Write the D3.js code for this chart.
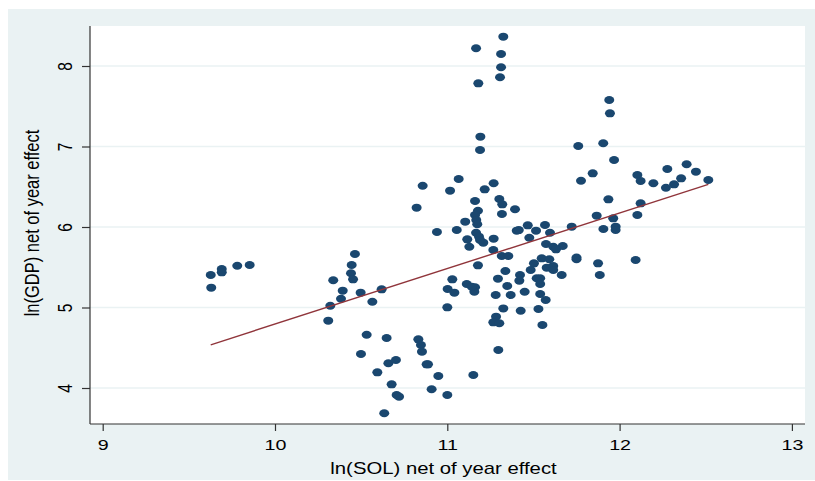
<!DOCTYPE html>
<html>
<head>
<meta charset="utf-8">
<script src="https://cdn.jsdelivr.net/npm/d3@7"></script>
<style>
  html, body { margin: 0; padding: 0; background: #ffffff; }
  svg { display: block; }
  text { font-family: "Liberation Sans", Arial, Helvetica, sans-serif; fill: #000; }
</style>
</head>
<body>
<svg id="chart" width="815" height="481"></svg>
<script>
// ---- data ----
const solX = [
  9.627, 9.630, 9.691, 9.691, 9.781, 9.853,
  10.464, 10.445, 10.441, 10.453, 10.338, 10.393, 10.383, 10.497, 10.619, 10.565,
  10.321, 10.309, 10.532, 10.648, 10.499, 10.658, 10.702, 10.594, 10.677, 10.706,
  10.720, 10.634,
  10.832, 10.847, 10.853, 10.880, 10.888, 10.948, 10.909, 11.000, 11.151, 11.296,
  10.857, 11.066, 11.016, 11.269, 11.217, 10.822, 11.161, 11.302, 11.319, 11.393,
  11.178, 11.161, 11.317, 11.168, 11.174, 11.104, 10.940, 11.055, 11.167, 11.184,
  11.116, 11.128, 11.209, 11.269, 11.403, 11.415, 11.467, 11.515, 11.476, 11.267,
  11.316, 11.354, 11.178, 11.337, 11.503, 11.484, 11.029, 11.002, 11.041, 11.113,
  11.161, 11.157, 11.142, 11.294, 11.422, 11.418, 11.348, 11.281, 11.449, 11.519,
  11.000, 11.368, 11.539, 11.539, 11.325, 11.426, 11.283, 11.267, 11.302, 11.529,
  11.552, 11.539, 11.571, 11.190,
  11.567, 11.596, 11.722, 11.867, 11.963, 12.103, 11.906, 11.977, 11.977, 11.573,
  11.615, 11.670, 11.631, 11.548, 11.592, 11.615, 11.577, 11.615, 11.664, 11.750,
  11.750, 11.875, 12.093, 11.885,
  11.325, 11.167, 11.312, 11.312, 11.306, 11.180, 11.192, 11.190,
  11.940, 11.944, 11.760, 11.905, 11.968, 11.776, 11.844, 12.103, 12.122, 12.196,
  12.277, 12.269, 12.316, 12.357, 12.389, 12.443, 12.515, 11.935, 12.122
];
const gdpY = [
  5.404, 5.246, 5.478, 5.437, 5.519, 5.528,
  5.665, 5.528, 5.425, 5.350, 5.338, 5.209, 5.109, 5.184, 5.226, 5.072,
  5.022, 4.836, 4.662, 4.621, 4.422, 4.307, 4.348, 4.195, 4.046, 3.913,
  3.892, 3.686,
  4.605, 4.534, 4.451, 4.294, 4.294, 4.149, 3.984, 3.913, 4.161, 4.472,
  6.513, 6.596, 6.451, 6.543, 6.468, 6.240, 6.323, 6.348, 6.282, 6.220,
  6.202, 6.149, 6.161, 6.087, 6.034, 6.066, 5.938, 5.963, 5.929, 5.880,
  5.847, 5.755, 5.805, 5.855, 5.954, 5.962, 6.021, 5.954, 5.867, 5.714,
  5.640, 5.640, 5.524, 5.453, 5.549, 5.466, 5.350, 5.230, 5.184, 5.292,
  5.251, 5.196, 5.258, 5.358, 5.404, 5.333, 5.267, 5.155, 5.196, 5.363,
  5.002, 5.155, 5.363, 5.292, 4.989, 4.960, 4.886, 4.816, 4.804, 4.981,
  4.783, 5.168, 5.093, 5.838,
  6.025, 5.929, 6.004, 6.141, 6.108, 6.149, 5.975, 6.004, 5.963, 5.789,
  5.755, 5.764, 5.723, 5.611, 5.599, 5.516, 5.495, 5.466, 5.404, 5.599,
  5.620, 5.549, 5.590, 5.404,
  8.364, 8.220, 8.149, 7.984, 7.860, 7.785, 7.122, 6.957,
  7.578, 7.412, 7.006, 7.040, 6.832, 6.575, 6.667, 6.646, 6.571, 6.543,
  6.720, 6.488, 6.530, 6.605, 6.779, 6.687, 6.584, 6.344, 6.294
];
// fitted line (intercept, slope)
const fitCoef = [-2.106, 0.690];
const xTicks = [9, 10, 11, 12, 13];
const yTicks = [4, 5, 6, 7, 8];
const xTitle = "ln(SOL) net of year effect";
const yTitle = "ln(GDP) net of year effect";

// ---- layout ----
const svg = d3.select("#chart");
const W = 815, H = 481;
const plot = { left: 90, top: 26, right: 805, bottom: 424 };
const stretch = 1.27; // the reference's text is horizontally stretched

svg.append("rect").attr("x", 8).attr("y", 9).attr("width", W - 8).attr("height", 471)
  .attr("fill", "#eaf2f3");
svg.append("rect").attr("x", plot.left).attr("y", plot.top)
  .attr("width", plot.right - plot.left).attr("height", plot.bottom - plot.top)
  .attr("fill", "#ffffff");

const x = d3.scaleLinear().domain([9, 13]).range([102.7, 791.9]);
const y = d3.scaleLinear().domain([4, 8]).range([388, 66]);

// grid lines
svg.append("g").selectAll("line").data(yTicks).join("line")
  .attr("x1", plot.left).attr("x2", plot.right)
  .attr("y1", d => y(d)).attr("y2", d => y(d))
  .attr("stroke", "#eaf2f3").attr("stroke-width", 1.5);

// axes
const xAxis = d3.axisBottom(x).tickValues(xTicks).tickSize(7).tickPadding(6).tickFormat(d3.format("d"));
const gx = svg.append("g").attr("transform", `translate(0,${plot.bottom})`).call(xAxis);
gx.select(".domain").attr("d", `M${plot.left},0H${plot.right}`).attr("stroke", "#333").attr("stroke-width", 1.2);
gx.selectAll(".tick line").attr("stroke", "#333").attr("stroke-width", 1.2);
gx.selectAll(".tick text")
  .attr("font-size", 15.5).attr("font-family", "Liberation Sans, Arial, sans-serif").attr("fill", "#000")
  .attr("y", null).attr("dy", null)
  .attr("transform", `translate(0,26) scale(${stretch},1)`);

const yAxis = d3.axisLeft(y).tickValues(yTicks).tickSize(8).tickPadding(5).tickFormat(d3.format("d"));
const gy = svg.append("g").attr("transform", `translate(${plot.left},0)`).call(yAxis);
gy.select(".domain").attr("d", `M0,${plot.top}V${plot.bottom}`).attr("stroke", "#333").attr("stroke-width", 1.2);
gy.selectAll(".tick line").attr("stroke", "#333").attr("stroke-width", 1.2);
gy.selectAll(".tick text")
  .attr("font-size", 15.5).attr("font-family", "Liberation Sans, Arial, sans-serif").attr("fill", "#000")
  .attr("text-anchor", "middle").attr("x", null)
  .attr("transform", `translate(-18,0) scale(${stretch},1) rotate(-90)`)
  .attr("dy", "0");

// axis titles
svg.append("text")
  .attr("transform", `translate(${(plot.left + plot.right) / 2 - 4},474) scale(${stretch},1)`)
  .attr("text-anchor", "middle").attr("font-size", 16).text(xTitle);
svg.append("text")
  .attr("transform", `translate(39,${(plot.top + plot.bottom) / 2 - 2}) scale(${stretch},1) rotate(-90)`)
  .attr("text-anchor", "middle").attr("font-size", 16.5).text(yTitle);

// points
const pts = solX.map((v, i) => ({ x: v, y: gdpY[i] }));
svg.append("g").selectAll("ellipse").data(pts).join("ellipse")
  .attr("cx", d => x(d.x)).attr("cy", d => y(d.y))
  .attr("rx", 5).attr("ry", 4)
  .attr("fill", "#1a476f");

// fitted line
const ext = d3.extent(solX);
const fit = ext.map(v => ({ x: v, y: fitCoef[0] + fitCoef[1] * v }));
svg.append("path").datum(fit)
  .attr("d", d3.line().x(d => x(d.x)).y(d => y(d.y)))
  .attr("stroke", "#90353b").attr("stroke-width", 1.4).attr("fill", "none");
</script>
</body>
</html>
